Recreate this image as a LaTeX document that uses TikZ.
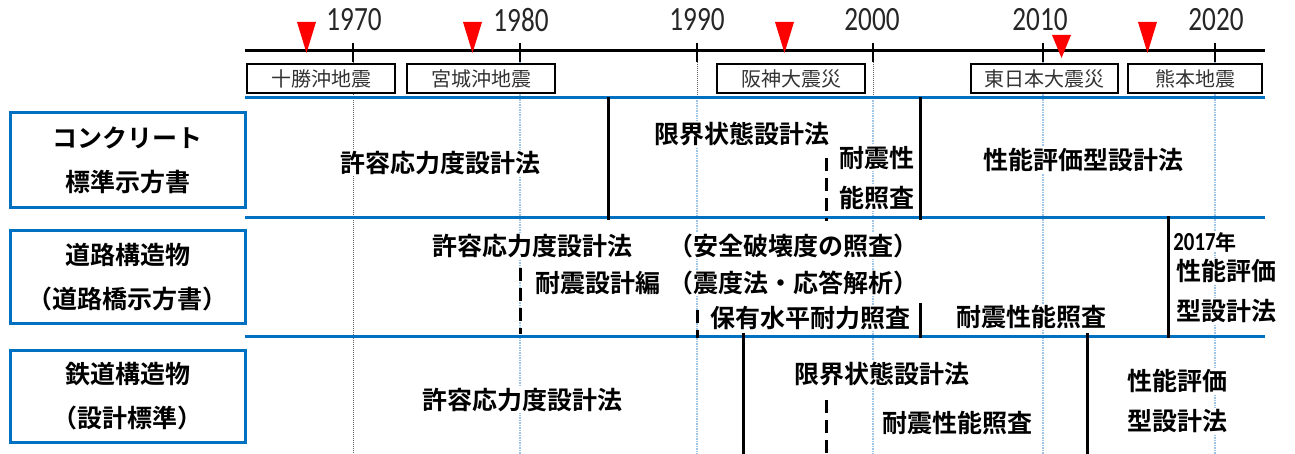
\documentclass[tikz,border=0pt]{standalone}
\usepackage{fontspec}
\setmainfont{Noto Sans CJK JP}[BoldFont={Noto Sans CJK JP Bold}]
\newfontfamily\yrfont{Carlito}[FakeStretch=0.8]
\definecolor{sepblue}{HTML}{0070C0}
\definecolor{dotblue}{HTML}{9DC3E6}
\definecolor{eqred}{HTML}{FF0000}
\begin{document}
\begin{tikzpicture}[x=1pt,y=-1pt,
  jp/.style={font=\bfseries\fontsize{25}{25}\selectfont, fill=white, inner sep=1pt},
  quake/.style={draw=black, line width=1.3pt, fill=white, minimum height=29pt, inner sep=0pt,
    font=\fontsize{20}{20}\selectfont, text=black!80},
  lblbox/.style={draw=sepblue, line width=3pt, fill=white, minimum width=235pt, align=center,
    font=\bfseries\fontsize{25}{44}\selectfont},
  yr/.style={font=\yrfont\fontsize{34}{34}\selectfont, text=black!85},
  sep/.style={draw=sepblue, line width=3pt},
  graydot/.style={draw=black!60, line width=1pt, densely dotted},
  bluedot/.style={draw=dotblue, line width=1.5pt, densely dotted},
  blk/.style={draw=black, line width=3pt},
  blkdash/.style={draw=black, line width=3pt, dash pattern=on 13pt off 7pt}
]
\useasboundingbox (0,0) rectangle (1295,454);

% dotted year guides
\draw[graydot] (353,62) -- (353,454);
\draw[graydot] (697,62) -- (697,98);
\draw[graydot] (873,62) -- (873,98);
\draw[bluedot] (520,62) -- (520,454);
\draw[bluedot] (697,98) -- (697,454);
\draw[bluedot] (873,98) -- (873,454);
\draw[bluedot] (1043,62) -- (1043,454);
\draw[bluedot] (1215,62) -- (1215,454);

% axis
\draw[line width=3pt] (245,51) -- (1265,51);
\foreach \x in {353,520,697,873,1043,1215}
  \draw[line width=2pt] (\x,43) -- (\x,62);
\node[yr] (y1970) at (354,20) {1970};
\node[yr] (y1980) at (521,20) {1980};
\node[yr] (y1990) at (697,20) {1990};
\node[yr] (y2000) at (872,20) {2000};
\node[yr] (y2010) at (1040,20) {2010};
\node[yr] (y2020) at (1216,20) {2020};

% earthquake markers
\fill[eqred] (297,22) -- (316,22) -- (306.5,53) -- cycle;
\fill[eqred] (463,22) -- (482,22) -- (472.5,53) -- cycle;
\fill[eqred] (775,22) -- (794,22) -- (784.5,53) -- cycle;
\fill[eqred] (1052,35) -- (1071,35) -- (1061.5,58) -- cycle;
\fill[eqred] (1138,22) -- (1157,22) -- (1147.5,53) -- cycle;

% earthquake boxes
\node[quake, minimum width=148pt] (q1) at (321,78.5) {十勝沖地震};
\node[quake, minimum width=148pt] (q2) at (481,78.5) {宮城沖地震};
\node[quake, minimum width=148pt] (q3) at (791,78.5) {阪神大震災};
\node[quake, minimum width=147pt] (q4) at (1044.5,78.5) {東日本大震災};
\node[quake, minimum width=134pt] (q5) at (1195,78.5) {熊本地震};

% row separators
\draw[sep] (245,98) -- (1265,98);
\draw[sep] (245,218) -- (1265,218);
\draw[sep] (245,336) -- (1265,336);

% left labels
\node[lblbox, minimum height=95pt] (l1) at (127.5,160.5) {コンクリート\\標準示方書};
\node[lblbox, minimum height=92pt] (l2) at (127.5,277) {道路構造物\\（道路橋示方書）};
\node[lblbox, minimum height=92pt] (l3) at (127.5,396) {鉄道構造物\\（設計標準）};

% row 1
\node[jp] (r1a) at (440,163) {許容応力度設計法};
\node[jp] (r1b) at (742,134) {限界状態設計法};
\node[jp] (r1c) at (877,158) {耐震性};
\node[jp] (r1d) at (877,198) {能照査};
\node[jp] (r1e) at (1083,160) {性能評価型設計法};

% row 2
\node[jp] (r2a) at (532,246) {許容応力度設計法};
\node[jp] (r2b) at (793,246) {（安全破壊度の照査）};
\node[jp] (r2c) at (598,283) {耐震設計編};
\node[jp] (r2d) at (793,283) {（震度法・応答解析）};
\node[jp] (r2e) at (810,318) {保有水平耐力照査};
\node[jp] (r2f) at (1031,317) {耐震性能照査};
\node[inner sep=0pt, fill=white] (r2g) at (1205,242) {{\yrfont\bfseries\fontsize{26}{26}\selectfont 2017}{\bfseries\fontsize{21}{21}\selectfont 年}};
\node[jp] (r2h) at (1226,271) {性能評価};
\node[jp] (r2i) at (1226,311) {型設計法};

% row 3
\node[jp] (r3a) at (522,400) {許容応力度設計法};
\node[jp] (r3b) at (882,374) {限界状態設計法};
\node[jp] (r3c) at (957,423) {耐震性能照査};
\node[jp] (r3d) at (1177,381) {性能評価};
\node[jp] (r3e) at (1177,421) {型設計法};

% period boundaries
\draw[blk] (608,97) -- (608,220);
\draw[blk] (920,97) -- (920,220);
\draw[blkdash] (826,158) -- (826,221);
\draw[blkdash] (520,268) -- (520,334);
\draw[blkdash] (697,310) -- (697,338);
\draw[blk] (920,303) -- (920,338);
\draw[blk] (1168,216) -- (1168,338);
\draw[blk] (743,333) -- (743,454);
\draw[blkdash] (826,400) -- (826,454);
\draw[blk] (1087,333) -- (1087,454);
\end{tikzpicture}
\end{document}
